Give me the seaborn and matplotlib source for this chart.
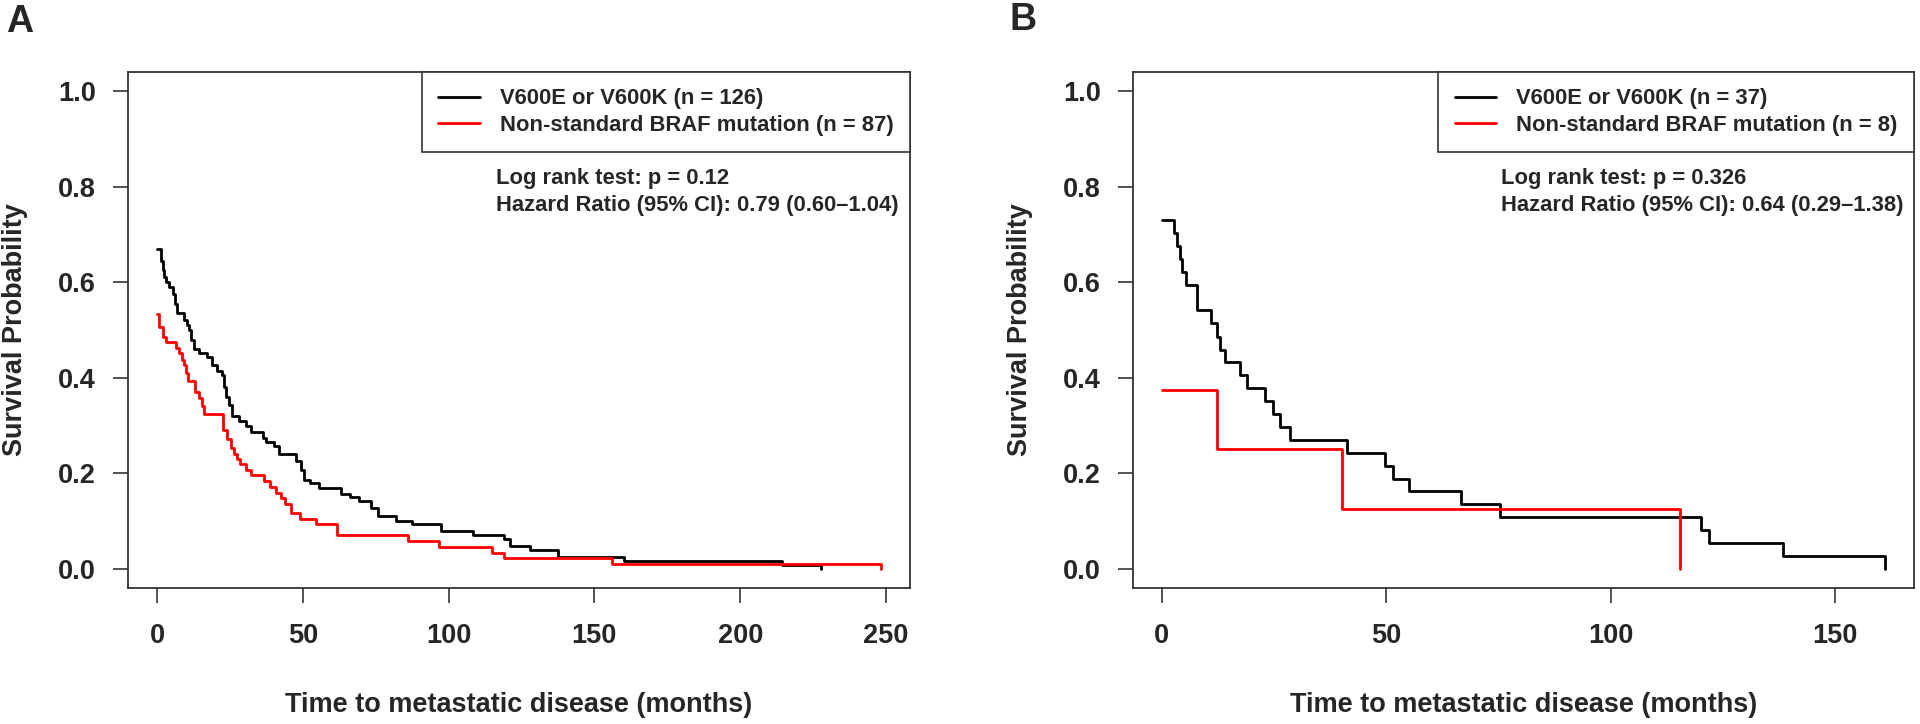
import numpy as np
import pandas as pd
import matplotlib
matplotlib.use("Agg")
import matplotlib.pyplot as plt
import seaborn as sns

# panel A: Kaplan-Meier steps
a_std_time = [0, 1.3, 2.0, 2.5, 3.0, 4.1, 5.5, 6.3, 7.0, 9.3, 10.2, 11.0, 11.8, 12.7,
              14.4, 17.3, 19.0, 20.7, 22.2, 23.0, 23.8, 24.7, 25.9, 28.1, 30.4, 32.2,
              36.2, 37.3, 40.2, 41.9, 47.6, 49.4, 50.5, 52.5, 55.6, 63.0, 66.1, 69.3,
              73.5, 75.7, 82.0, 87.3, 97.4, 108.4, 119.0, 121.1, 127.9, 137.6, 160.2,
              214.5, 227.8]
a_std_surv = [0.669, 0.645, 0.625, 0.610, 0.601, 0.591, 0.575, 0.555, 0.535, 0.520,
              0.510, 0.500, 0.480, 0.461, 0.451, 0.444, 0.426, 0.415, 0.405, 0.380,
              0.360, 0.342, 0.321, 0.310, 0.300, 0.287, 0.275, 0.265, 0.258, 0.240,
              0.225, 0.208, 0.187, 0.180, 0.169, 0.157, 0.150, 0.143, 0.128, 0.111,
              0.101, 0.095, 0.080, 0.071, 0.063, 0.048, 0.040, 0.024, 0.016, 0.008, 0.0]
a_non_time = [0, 0.6, 2.0, 3.0, 6.4, 7.6, 8.5, 9.4, 10.0, 10.7, 13.0, 14.5, 15.3, 16.2,
              22.8, 24.1, 25.3, 26.4, 27.6, 28.5, 30.4, 32.2, 36.6, 38.7, 40.8, 42.5,
              44.0, 46.1, 49.2, 54.5, 61.9, 86.2, 96.8, 114.8, 119.0, 156.0, 248.3]
a_non_surv = [0.533, 0.507, 0.486, 0.474, 0.463, 0.451, 0.438, 0.426, 0.410, 0.393,
              0.370, 0.357, 0.340, 0.324, 0.290, 0.272, 0.254, 0.240, 0.230, 0.219,
              0.208, 0.196, 0.183, 0.172, 0.159, 0.148, 0.135, 0.116, 0.104, 0.093,
              0.070, 0.058, 0.046, 0.034, 0.023, 0.011, 0.0]

# panel B
b_std_time = [0, 2.8, 3.3, 4.1, 4.5, 5.3, 7.8, 11.0, 12.3, 12.9, 14.0, 17.5, 18.9,
              23.0, 24.7, 26.2, 28.5, 41.3, 49.8, 51.5, 55.0, 66.7, 75.3, 120.2,
              121.9, 138.3, 161.1]
b_std_surv = [0.730, 0.703, 0.676, 0.649, 0.622, 0.595, 0.541, 0.514, 0.486, 0.459,
              0.432, 0.405, 0.378, 0.351, 0.324, 0.297, 0.270, 0.243, 0.216, 0.189,
              0.162, 0.135, 0.108, 0.081, 0.054, 0.027, 0.0]
b_non_time = [0, 12.3, 40.2, 115.4]
b_non_surv = [0.375, 0.250, 0.125, 0.0]

a_labels = ["V600E or V600K (n = 126)", "Non-standard BRAF mutation (n = 87)"]
b_labels = ["V600E or V600K (n = 37)", "Non-standard BRAF mutation (n = 8)"]
a_stats = ["Log rank test: p = 0.12", "Hazard Ratio (95% CI): 0.79 (0.60\u20131.04)"]
b_stats = ["Log rank test: p = 0.326", "Hazard Ratio (95% CI): 0.64 (0.29\u20131.38)"]
a_xticks = [0, 50, 100, 150, 200, 250]
b_xticks = [0, 50, 100, 150]
yticks = [0.0, 0.2, 0.4, 0.6, 0.8, 1.0]

sns.set_theme(style="white")
plt.rcParams["font.family"] = ["Liberation Sans", "DejaVu Sans"]
plt.rcParams["font.weight"] = "bold"
plt.rcParams["axes.labelweight"] = "bold"

W, H = 1920, 724
fig = plt.figure(figsize=(W / 100, H / 100), dpi=100)
ax_a = fig.add_axes([128 / W, 1 - 588 / H, 782 / W, 516 / H])
ax_b = fig.add_axes([1133 / W, 1 - 588 / H, 781 / W, 516 / H])


def km_panel(ax, t1, s1, t2, s2, labels, stats, xticks, xmax):
    df = pd.concat([
        pd.DataFrame({"time": t1, "surv": s1, "group": labels[0]}),
        pd.DataFrame({"time": t2, "surv": s2, "group": labels[1]}),
    ])
    sns.lineplot(data=df, x="time", y="surv", hue="group", hue_order=labels,
                 palette=["black", "#ff0000"], estimator=None, sort=False,
                 drawstyle="steps-post", linewidth=2.0, legend=False, ax=ax)
    pad = xmax * 0.04
    ax.set_xlim(-pad, xmax + pad)
    ax.set_ylim(-0.04, 1.04)
    ax.set_xticks(xticks)
    ax.set_yticks(yticks)
    ax.set_yticklabels([f"{v:.1f}" for v in yticks])
    ax.tick_params(axis="both", length=11, width=1.2, color="#333333",
                   labelsize=19.5, direction="out", left=True, bottom=True)
    ax.tick_params(axis="x", pad=14)
    ax.tick_params(axis="y", pad=12)
    for sp in ax.spines.values():
        sp.set_visible(True)
        sp.set_color("#333333")
        sp.set_linewidth(1.3)
    ax.set_xlabel("Time to metastatic disease (months)", fontsize=19.5,
                  fontweight="bold")
    ax.set_ylabel("Survival Probability", fontsize=19.5, fontweight="bold")
    # R style label placement: baseline of x label ~124 px under the box
    ax.xaxis.set_label_coords(0.5, -124 / 516)
    ax.xaxis.label.set_va("baseline")
    ax.yaxis.set_label_coords(-113 / 782, 0.5)
    ax.yaxis.label.set_va("center")
    leg = ax.legend(handles=ax.lines[:2], labels=labels, loc="upper right",
                    bbox_to_anchor=(1, 1), borderaxespad=0, frameon=True,
                    fancybox=False, framealpha=1, edgecolor="#333333",
                    prop={"weight": "bold", "size": 15.8}, handlelength=1.9,
                    handletextpad=0.9, borderpad=0.75, labelspacing=0.25)
    leg.get_frame().set_linewidth(1.2)
    ax.text(0.471, (588 - 178) / 516, stats[0], transform=ax.transAxes,
            fontsize=15.8, fontweight="bold", va="center", ha="left")
    ax.text(0.471, (588 - 205) / 516, stats[1], transform=ax.transAxes,
            fontsize=15.8, fontweight="bold", va="center", ha="left")


km_panel(ax_a, a_std_time, a_std_surv, a_non_time, a_non_surv, a_labels, a_stats,
         a_xticks, 248.3)
km_panel(ax_b, b_std_time, b_std_surv, b_non_time, b_non_surv, b_labels, b_stats,
         b_xticks, 161.1)

fig.text(6 / W, 1 - 4 / H, "A", fontsize=27, fontweight="bold", va="top", ha="left")
fig.text(1009 / W, 1 - 2 / H, "B", fontsize=27, fontweight="bold", va="top", ha="left")

fig.savefig("out.png", dpi=100, facecolor="white")
